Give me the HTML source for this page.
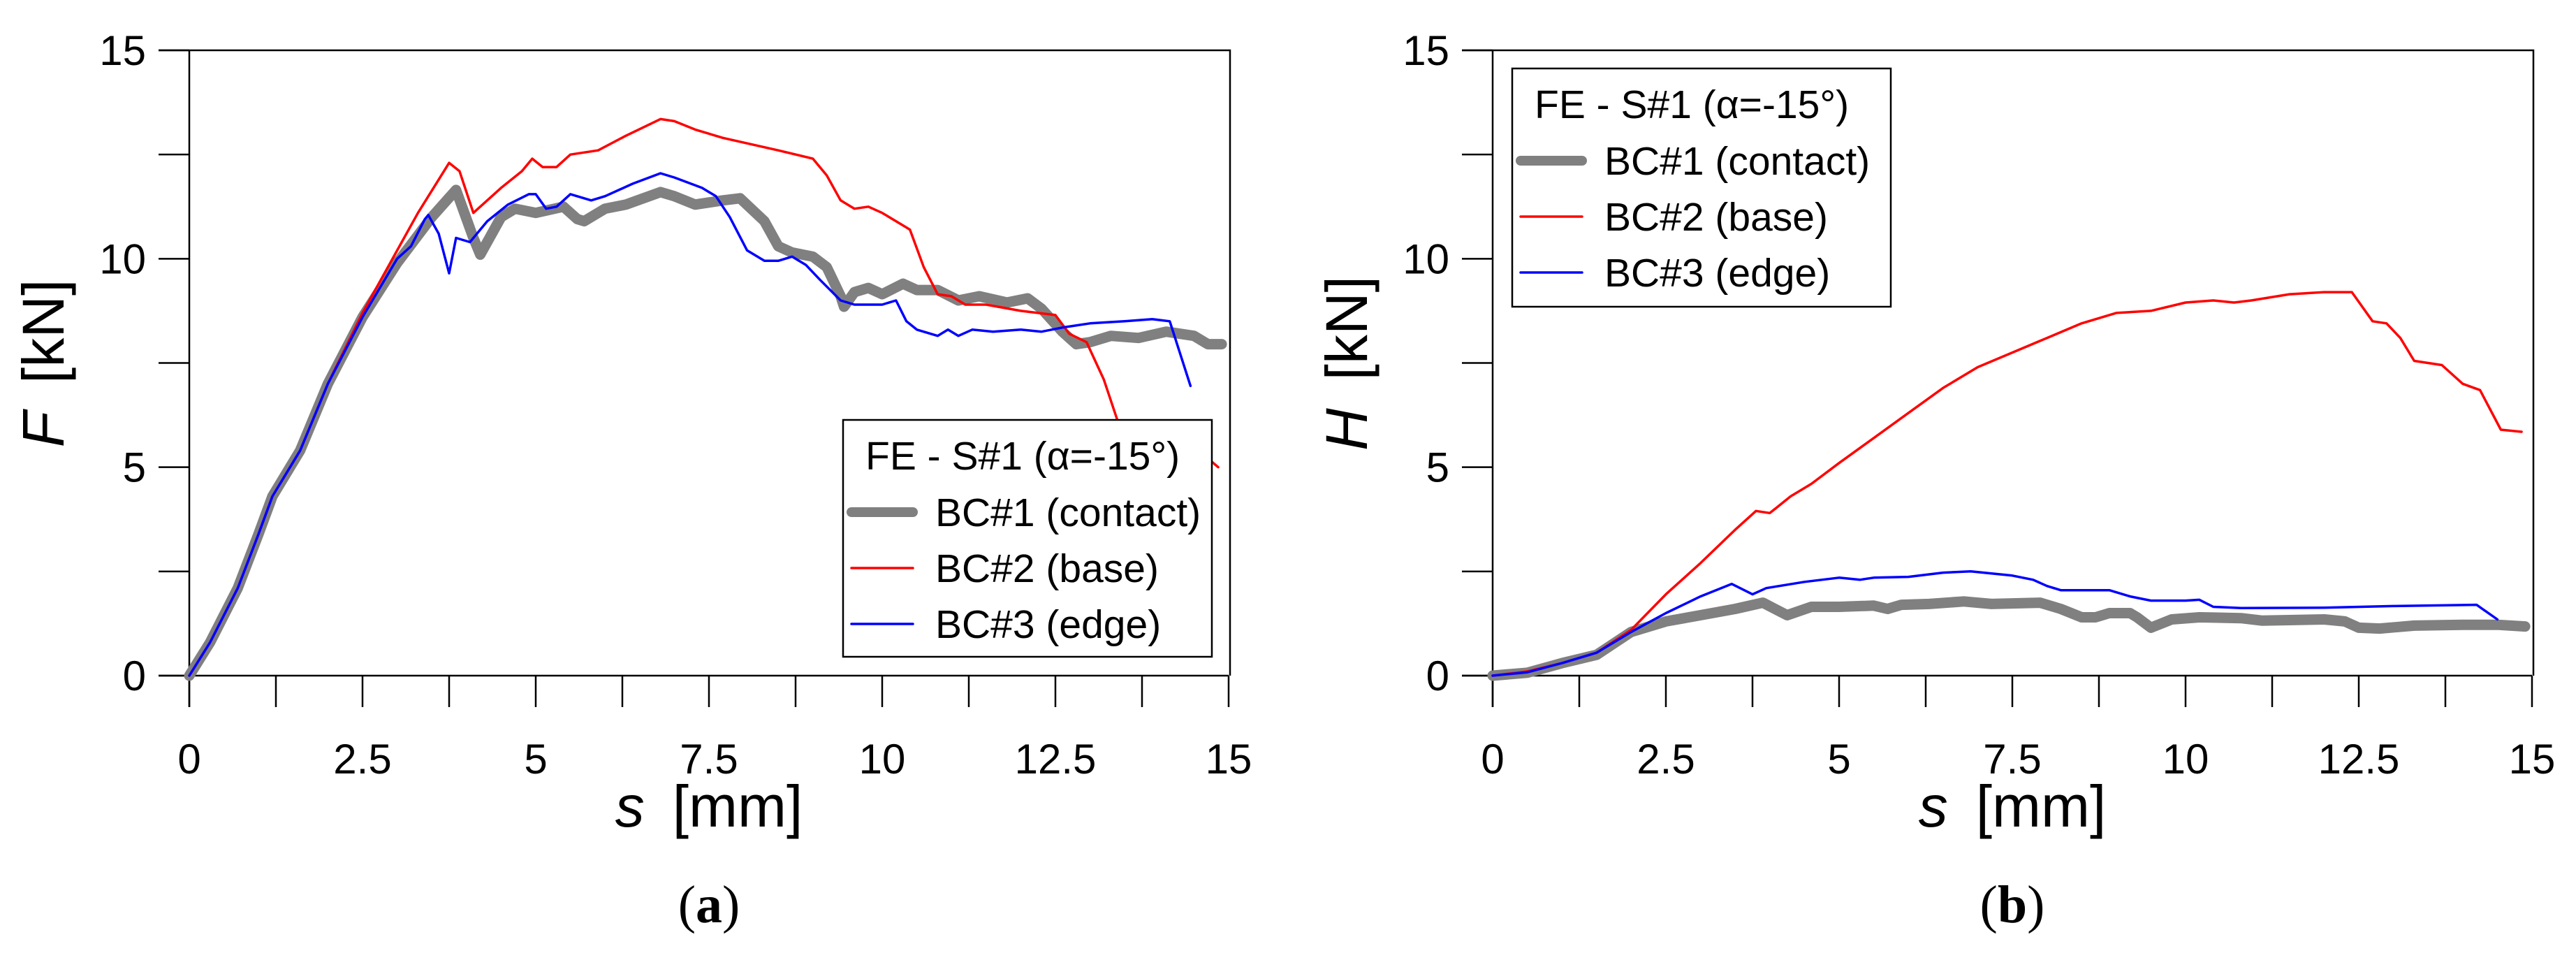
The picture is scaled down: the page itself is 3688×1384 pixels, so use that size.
<!DOCTYPE html>
<html><head><meta charset="utf-8"><style>
html,body{margin:0;padding:0;background:#fff;}
svg{display:block;font-family:"Liberation Sans",Arial,sans-serif;}
</style></head><body>
<svg id="fig" width="3688" height="1384" viewBox="0 0 3688 1384" xmlns="http://www.w3.org/2000/svg"></svg>
<script>
// ---- data (s in mm, force in kN) ----
const xTicks = [0, 2.5, 5, 7.5, 10, 12.5, 15];
const xTickLabels = ["0", "2.5", "5", "7.5", "10", "12.5", "15"];
const yTicks = [0, 5, 10, 15];
const yTickLabels = ["0", "5", "10", "15"];

const fGrayS = [0,0.3,0.7,1.0,1.2,1.6,2.0,2.5,3.0,3.5,3.85,4.1,4.2,4.5,4.7,5.0,5.4,5.6,5.7,6.0,6.3,6.8,7.0,7.3,7.7,7.95,8.3,8.5,8.7,9.0,9.2,9.4,9.45,9.6,9.8,10.0,10.3,10.5,10.8,11.1,11.4,11.8,12.1,12.3,12.6,12.8,13.0,13.3,13.7,14.1,14.5,14.7,14.9];
const fGrayV = [0,0.8,2.1,3.4,4.3,5.4,7.0,8.6,9.9,11.0,11.65,10.5,10.1,11.0,11.2,11.1,11.25,10.95,10.9,11.2,11.3,11.6,11.5,11.3,11.4,11.45,10.9,10.3,10.15,10.05,9.8,9.1,8.85,9.2,9.3,9.15,9.4,9.25,9.25,9.0,9.1,8.95,9.05,8.8,8.25,7.95,8.0,8.15,8.1,8.25,8.15,7.95,7.95];
const fRedS = [0,0.3,0.7,1.0,1.2,1.6,2.0,2.5,3.0,3.3,3.75,3.9,4.1,4.5,4.8,4.95,5.1,5.3,5.5,5.9,6.3,6.8,7.0,7.3,7.7,8.5,9.0,9.2,9.4,9.6,9.8,10.0,10.3,10.4,10.6,10.8,11.0,11.2,11.5,12.0,12.5,12.7,12.95,13.2,13.4,13.6,13.8,14.0,14.5,14.85];
const fRedV = [0,0.8,2.1,3.4,4.3,5.4,7.0,8.7,10.2,11.1,12.3,12.1,11.1,11.7,12.1,12.4,12.2,12.2,12.5,12.6,12.95,13.35,13.3,13.1,12.9,12.6,12.4,12.0,11.4,11.2,11.25,11.1,10.8,10.7,9.8,9.15,9.1,8.9,8.9,8.75,8.65,8.2,8.0,7.1,6.1,6.0,6.1,5.8,5.5,5.0];
const fBlueS = [0,0.3,0.7,1.0,1.2,1.6,2.0,2.5,3.0,3.2,3.4,3.45,3.6,3.75,3.85,4.05,4.3,4.6,4.9,5.0,5.15,5.3,5.5,5.8,6.0,6.4,6.8,7.0,7.4,7.6,7.8,8.05,8.3,8.5,8.7,8.9,9.1,9.4,9.6,10.0,10.2,10.35,10.5,10.8,10.95,11.1,11.3,11.6,12.0,12.3,12.6,13.0,13.5,13.9,14.15,14.45];
const fBlueV = [0,0.8,2.1,3.4,4.3,5.4,7.0,8.6,10.0,10.3,10.95,11.05,10.6,9.65,10.5,10.4,10.9,11.3,11.55,11.55,11.2,11.25,11.55,11.4,11.5,11.8,12.05,11.95,11.7,11.5,11.0,10.2,9.95,9.95,10.05,9.85,9.5,9.0,8.9,8.9,9.0,8.5,8.3,8.15,8.3,8.15,8.3,8.25,8.3,8.25,8.35,8.45,8.5,8.55,8.5,6.95];

const hGrayS = [0,0.5,1.0,1.5,2.0,2.5,3.0,3.5,3.9,4.25,4.6,5.0,5.5,5.7,5.9,6.3,6.8,7.2,7.9,8.2,8.5,8.7,8.9,9.2,9.3,9.5,9.8,10.2,10.8,11.1,12.0,12.3,12.5,12.8,13.3,14.0,14.5,14.9];
const hGrayV = [0,0.07,0.3,0.5,1.05,1.3,1.45,1.6,1.75,1.45,1.65,1.65,1.68,1.6,1.7,1.72,1.78,1.72,1.75,1.6,1.4,1.4,1.5,1.5,1.4,1.15,1.35,1.4,1.38,1.32,1.35,1.3,1.15,1.13,1.2,1.22,1.22,1.18];
const hRedS = [0,0.5,1.0,1.5,2.0,2.5,3.0,3.5,3.8,4.0,4.3,4.6,5.0,5.5,6.0,6.5,7.0,7.5,8.0,8.5,9.0,9.5,10.0,10.4,10.7,10.95,11.5,12.0,12.4,12.7,12.9,13.1,13.3,13.7,14.0,14.25,14.55,14.85];
const hRedV = [0,0.1,0.3,0.55,1.1,1.95,2.7,3.5,3.95,3.9,4.3,4.6,5.1,5.7,6.3,6.9,7.4,7.75,8.1,8.45,8.7,8.75,8.95,9.0,8.95,9.0,9.15,9.2,9.2,8.5,8.45,8.1,7.55,7.45,7.0,6.85,5.9,5.85];
const hBlueS = [0,0.5,1.0,1.5,2.0,2.5,3.0,3.45,3.75,3.95,4.5,5.0,5.3,5.5,6.0,6.5,6.9,7.5,7.8,8.0,8.2,8.9,9.2,9.5,10.0,10.2,10.4,10.8,12.0,13.0,14.2,14.5];
const hBlueV = [0,0.08,0.3,0.55,1.05,1.5,1.9,2.2,1.95,2.1,2.25,2.35,2.3,2.35,2.37,2.47,2.5,2.4,2.3,2.15,2.05,2.05,1.9,1.8,1.8,1.82,1.65,1.62,1.63,1.67,1.7,1.35];

const legendLabels = ["BC#1 (contact)", "BC#2 (base)", "BC#3 (edge)"];

const NS = "http://www.w3.org/2000/svg";
const svg = document.getElementById("fig");
function el(tag, attrs, parent) {
  const e = document.createElementNS(NS, tag);
  for (const k in attrs) e.setAttribute(k, attrs[k]);
  (parent || svg).appendChild(e);
  return e;
}

function drawPanel(p) {
  const g = el("g", {});
  
  
  const X = v => p.x0 + (v / 15) * (p.x1 - p.x0);
  const Y = v => p.y0 - (v / 15) * (p.y0 - p.y1);
  const frame = el("path", {d:`M${p.x0-44},${p.y1} H${p.x1+2} V${p.y0} M${p.x0},${p.y1} V${p.y0+45} M${p.x0-44},${p.y0} H${p.x1}`, stroke:"#000","stroke-width":2.5, fill:"none"}, g);
  
  
  for (let i = 0; i <= 12; i++) {
    const t = el("line", {x1:X(i*1.25), x2:X(i*1.25), y1:p.y0, y2:p.y0+45, stroke:"#000","stroke-width":2.5}, g);
    
    
  }
  for (let i = 0; i <= 6; i++) {
    const t = el("line", {x1:p.x0-44, x2:p.x0, y1:Y(i*2.5), y2:Y(i*2.5), stroke:"#000","stroke-width":2.5}, g);
    
    
  }
  xTicks.forEach((v, i) => {
    const t = el("text", {x:X(v), y:p.y0+140, "font-size":60, "text-anchor":"middle"}, g);
    t.textContent = xTickLabels[i];
    
    
  });
  yTicks.forEach((v, i) => {
    const t = el("text", {x:p.x0-62, y:Y(v)+21, "font-size":60, "text-anchor":"end"}, g);
    t.textContent = yTickLabels[i];
    
    
  });
  const series = [
    [p.gs, p.gv, "#808080", 15, "series-bc1-contact"],
    [p.rs, p.rv, "#ff0000", 3.5, "series-bc2-base"],
    [p.bs, p.bv, "#0000ff", 3.5, "series-bc3-edge"]
  ];
  series.forEach(s => {
    const pts = s[0].map((x, i) => X(x).toFixed(1) + "," + Y(s[1][i]).toFixed(1)).join(" ");
    const pl = el("polyline", {points:pts, fill:"none", stroke:s[2], "stroke-width":s[3], "stroke-linejoin":"round", "stroke-linecap":"round"}, g);
    
    
  });
  const xt = el("text", {x:(p.x0+p.x1)/2, y:p.y0+216, "font-size":84, "text-anchor":"middle"}, g);
  xt.innerHTML = '<tspan font-style="italic">s</tspan><tspan dx="40">[mm]</tspan>';
  
  
  const yt = el("text", {x:0, y:0, "font-size":84, "text-anchor":"middle", transform:`translate(${p.x0-180},${520}) rotate(-90)`}, g);
  yt.innerHTML = `<tspan font-style="italic">${p.ylab}</tspan><tspan dx="40">[kN]</tspan>`;
  
  
  const L = p.leg;
  const lg = el("g", {}, g);
  
  
  const bx = el("rect", {x:L.x, y:L.y, width:L.w, height:L.h, fill:"#fff", stroke:"#000", "stroke-width":2.5}, lg);
  
  
  const tt = el("text", {x:L.x+32, y:L.y+71, "font-size":57}, lg);
  tt.textContent = "FE - S#1 (\u03b1=-15\u00b0)";
  
  
  const cols = ["#808080", "#ff0000", "#0000ff"], ws = [14, 3.5, 3.5];
  legendLabels.forEach((lab, i) => {
    const yy = L.y + 132 + i * 80;
    const ln = el("line", {x1:L.x+12, x2:L.x+100, y1:yy, y2:yy, stroke:cols[i], "stroke-width":ws[i], "stroke-linecap":"round"}, lg);
    
    
    const tx = el("text", {x:L.x+132, y:yy+20, "font-size":57}, lg);
    tx.textContent = lab;
    
    
  });
  const cap = el("text", {x:(p.x0+p.x1)/2, y:1320, "font-size":76, "text-anchor":"middle", "font-family":"Liberation Serif, serif"}, g);
  cap.innerHTML = `(<tspan font-weight="bold">${p.cap}</tspan>)`;
  
  
}

drawPanel({name:"panel-a-vertical-force", x0:271, x1:1759, y0:967, y1:72, ylab:"F", cap:"a",
  gs:fGrayS, gv:fGrayV, rs:fRedS, rv:fRedV, bs:fBlueS, bv:fBlueV,
  leg:{x:1207, y:601, w:528, h:339}});
drawPanel({name:"panel-b-horizontal-force", x0:2137, x1:3625, y0:967, y1:72, ylab:"H", cap:"b",
  gs:hGrayS, gv:hGrayV, rs:hRedS, rv:hRedV, bs:hBlueS, bv:hBlueV,
  leg:{x:2165, y:98, w:542, h:341}});
</script>
</body></html>
